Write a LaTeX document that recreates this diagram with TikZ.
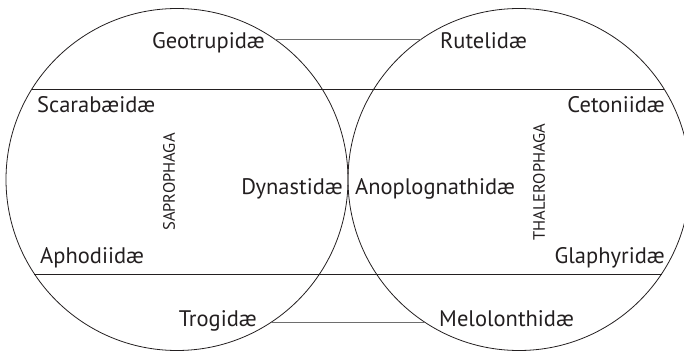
\documentclass[tikz,border=0pt]{standalone}
\usepackage{fontspec}
\setmainfont{PT Sans}
\usepackage{tikz}
\usetikzlibrary{calc}
\definecolor{inkblack}{RGB}{35,31,32}
\definecolor{linkgray}{RGB}{110,110,110}

\begin{document}
\begin{tikzpicture}[x=1pt,y=1pt,
    family/.style={inner sep=0pt, text=inkblack, font=\fontsize{22.5}{26}\selectfont},
    group/.style={inner sep=0pt, text=inkblack, rotate=90, font=\fontsize{16.5}{19}\selectfont},
    ring/.style={draw=inkblack, line width=0.8pt},
    chord/.style={draw=inkblack, line width=0.8pt},
    link/.style={draw=linkgray, line width=0.9pt}]
    \useasboundingbox (0,0) rectangle (684,351);
    \clip (0,0) rectangle (684,351);

    % Circles
    \coordinate (lc) at (177,171.5);
    \coordinate (rc) at (519,171.5);
    \draw[ring] (lc) circle (171);
    \draw[ring] (rc) circle (171);

    % Chords across both circles
    \coordinate (topl) at ($(lc)+(148.05:171)$);
    \coordinate (topr) at ($(rc)+(31.95:171)$);
    \coordinate (botl) at ($(lc)+(213.55:171)$);
    \coordinate (botr) at ($(rc)+(-33.55:171)$);
    \draw[chord] (topl) -- (topr);
    \draw[chord] (botl) -- (botr);

    % Families
    \node[family, anchor=base east] (geo) at (265,302) {Geotrupidæ};
    \node[family, anchor=base west] (rut) at (440,302) {Rutelidæ};
    \node[family, anchor=base west] (sca) at (37,238) {Scarabæidæ};
    \node[family, anchor=base east] (cet) at (665,238) {Cetoniidæ};
    \node[family, anchor=base east] (dyn) at (343,157) {Dynastidæ};
    \node[family, anchor=base west] (ano) at (355,157) {Anoplognathidæ};
    \node[family, anchor=base west] (aph) at (40,88) {Aphodiidæ};
    \node[family, anchor=base east] (gla) at (665,88) {Glaphyridæ};
    \node[family, anchor=base east] (tro) at (257,25) {Trogidæ};
    \node[family, anchor=base west] (mel) at (439,25) {Melolonthidæ};

    % Groups
    \node[group] (sap) at (169,169) {SAPROPHAGA};
    \node[group] (tha) at (539,169) {THALEROPHAGA};

    % Links between the circles
    \coordinate (geoend) at ($(lc)+(55.25:171)$);
    \coordinate (rutend) at ($(rc)+(124.75:171)$);
    \coordinate (troend) at ($(lc)+(-56.44:171)$);
    \coordinate (melend) at ($(rc)+(-123.56:171)$);
    \draw[link] (geoend) -- (rutend);
    \draw[link] (troend) -- (melend);
\end{tikzpicture}
\end{document}
